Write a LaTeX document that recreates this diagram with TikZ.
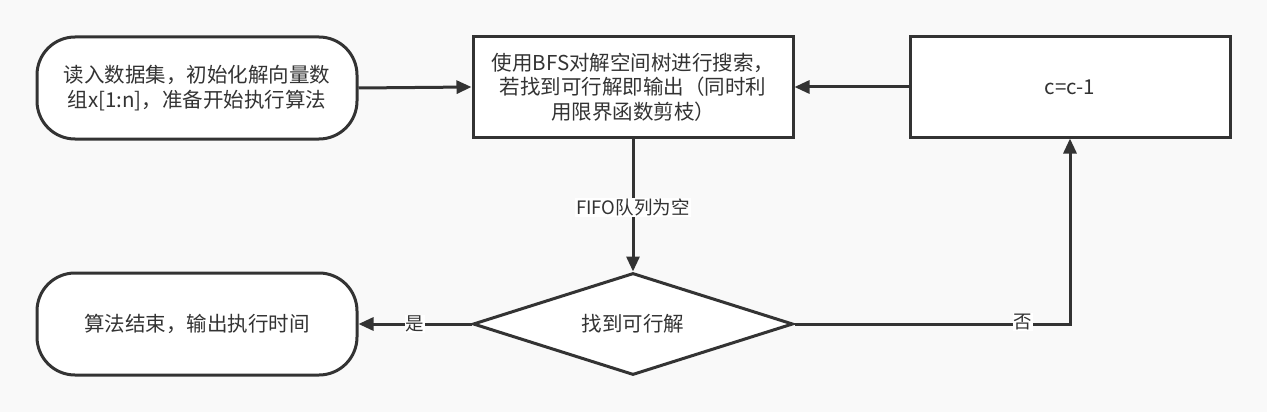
\documentclass[tikz,border=0pt]{standalone}
\usepackage{fontspec}
\setmainfont{Noto Sans CJK SC}
\usetikzlibrary{shapes.geometric,arrows.meta}
\definecolor{ink}{HTML}{333333}
\definecolor{bg}{HTML}{F9F9F9}
\tikzset{
  base/.style={draw=ink, line width=3pt, fill=white, text=ink, font=\fontsize{20.5}{24.5}\selectfont, align=center, inner sep=0pt},
  term/.style={base, rectangle, rounded corners=38pt, minimum width=320pt, minimum height=102pt},
  proc/.style={base, rectangle, minimum width=320pt, minimum height=100pt},
  dec/.style={base, diamond, minimum width=320pt, minimum height=102pt, aspect=3.1},
  conn/.style={draw=ink, line width=3pt, -{Triangle[length=15pt,width=13pt]}},
  lbl/.style={fill=white, text=ink, font=\fontsize{18.5}{20}\selectfont, inner sep=1pt}
}
\begin{document}
\begin{tikzpicture}[x=1pt,y=-1pt]
\fill[bg] (0,0) rectangle (1267,412);
\useasboundingbox (0,0) rectangle (1267,412);
\node[term] (start) at (197,88) {读入数据集，初始化解向量数\\组x[1:n]，准备开始执行算法};
\node[proc] (bfs) at (633,87) {使用BFS对解空间树进行搜索，\\若找到可行解即输出（同时利\\用限界函数剪枝）};
\node[proc] (dec1) at (1070,87) {\raisebox{-4pt}{c=c-1}};
\node[dec] (find) at (633,324) {找到可行解};
\node[term] (end) at (197,324) {算法结束，输出执行时间};
\draw[conn] (start.east) -- (bfs.west);
\draw[conn] (dec1.west) -- (bfs.east);
\draw[conn] (bfs.south) -- node[lbl,pos=0.52] {FIFO队列为空} (find.north);
\draw[conn] (find.west) -- node[lbl] {是} (end.east);
\draw[conn] (find.east) -| node[lbl,pos=0.415,yshift=2pt] {否} (dec1.south);
\end{tikzpicture}
\end{document}
